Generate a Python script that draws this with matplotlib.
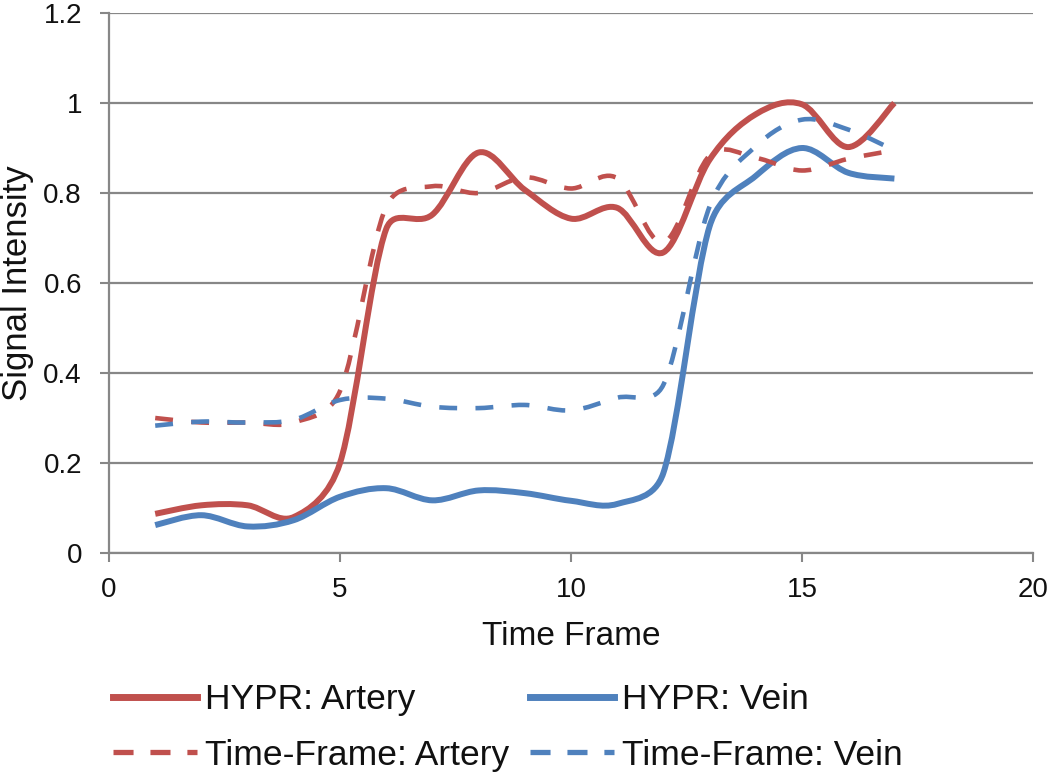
import matplotlib
matplotlib.use("Agg")
import numpy as np
import matplotlib.pyplot as plt
from matplotlib.path import Path
from matplotlib.patches import PathPatch
from matplotlib.lines import Line2D

plt.rcParams['font.family'] = ['Liberation Sans', 'DejaVu Sans']

frames = [1, 2, 3, 4, 5, 6, 7, 8, 9, 10, 11, 12, 13, 14, 15, 16, 17]
hypr_artery = [0.087, 0.106, 0.106, 0.080, 0.20, 0.72, 0.752, 0.89, 0.807, 0.743, 0.767, 0.668, 0.874, 0.975, 0.997, 0.902, 1.0]
tf_artery = [0.30, 0.29, 0.29, 0.29, 0.36, 0.77, 0.815, 0.80, 0.835, 0.81, 0.833, 0.69, 0.883, 0.878, 0.85, 0.876, 0.895]
hypr_vein = [0.062, 0.084, 0.059, 0.073, 0.125, 0.144, 0.117, 0.139, 0.133, 0.116, 0.109, 0.178, 0.726, 0.838, 0.90, 0.845, 0.832]
tf_vein = [0.283, 0.292, 0.29, 0.296, 0.34, 0.343, 0.325, 0.322, 0.329, 0.317, 0.345, 0.374, 0.77, 0.904, 0.963, 0.941, 0.895]

labels = ["HYPR: Artery", "HYPR: Vein", "Time-Frame: Artery", "Time-Frame: Vein"]
xticks = [0, 5, 10, 15, 20]
yticks = [0, 0.2, 0.4, 0.6, 0.8, 1.0, 1.2]
ytick_labels = ["0", "0.2", "0.4", "0.6", "0.8", "1", "1.2"]

RED = "#C0504D"
BLUE = "#4F81BD"
GRID = "#878787"
TXT = "#111111"


def smooth_path(ax, x, y):
    """Excel-style smoothed line: cubic Bezier segments built in screen space,
    control arms limited to half of the segment length."""
    pts = ax.transData.transform(np.column_stack([x, y]))
    n = len(pts)
    verts = [pts[0]]
    codes = [Path.MOVETO]
    for i in range(n - 1):
        p0 = pts[i - 1] if i > 0 else pts[i]
        p1 = pts[i]
        p2 = pts[i + 1]
        p3 = pts[i + 2] if i + 2 < n else pts[i + 1]
        seg = np.hypot(*(p2 - p1))
        t1 = (p2 - p0) / 6.0
        t2 = (p3 - p1) / 6.0
        for t in (t1, t2):
            L = np.hypot(*t)
            if L > seg / 2.0 and L > 0:
                t *= (seg / 2.0) / L
        verts += [p1 + t1, p2 - t2, p2]
        codes += [Path.CURVE4] * 3
    verts = ax.transData.inverted().transform(np.array(verts))
    return Path(verts, codes)


fig = plt.figure(figsize=(10.5, 7.76), dpi=100)
ax = fig.add_axes([109 / 1050, 1 - 553 / 776, (1033 - 109) / 1050, (553 - 13) / 776])

ax.set_xlim(0, 20)
ax.set_ylim(0, 1.2)

series = [
    (hypr_artery, RED, "-", 4.3),
    (hypr_vein, BLUE, "-", 4.3),
    (tf_artery, RED, (0, (3.9, 4.0)), 3.3),
    (tf_vein, BLUE, (0, (3.9, 4.0)), 3.3),
]
for ys, col, ls, lw in series:
    p = PathPatch(smooth_path(ax, frames, ys), fill=False, edgecolor=col,
                  linewidth=lw, linestyle=ls, capstyle='butt', joinstyle='round', zorder=3)
    ax.add_patch(p)

# grid and axes styling
ax.set_yticks(yticks)
ax.set_yticklabels(ytick_labels)
ax.set_xticks(xticks)
ax.grid(axis='y', color=GRID, linewidth=1.6)
ax.set_axisbelow(True)
for s in ['top', 'right']:
    ax.spines[s].set_visible(False)
for s in ['left', 'bottom']:
    ax.spines[s].set_color(GRID)
    ax.spines[s].set_linewidth(1.6)
ax.tick_params(axis='both', direction='out', length=6.5, width=1.5, color=GRID,
               labelsize=20, labelcolor=TXT)
ax.tick_params(axis='y', pad=13)
ax.tick_params(axis='x', pad=11)

ax.set_xlabel("Time Frame", fontsize=24, color=TXT, labelpad=13)
ax.set_ylabel("Signal Intensity", fontsize=25, color=TXT)
ax.yaxis.label.set_rotation_mode('default')
ax.yaxis.label.set_horizontalalignment('left')
ax.yaxis.label.set_verticalalignment('center')
ax.yaxis.set_label_coords((1 - 109) / 924, 0.5)

solid_h = dict(lw=5.0, ls='-')
dash_h = dict(lw=3.8, ls=(0, (3.8, 3.2)))
col1 = [Line2D([], [], color=RED, **solid_h), Line2D([], [], color=RED, **dash_h)]
col2 = [Line2D([], [], color=BLUE, **solid_h), Line2D([], [], color=BLUE, **dash_h)]
common = dict(loc='upper left', frameon=False, fontsize=25.5, handlelength=2.37,
              handletextpad=0.23, labelspacing=0.64, borderpad=0, borderaxespad=0,
              labelcolor=TXT)
fig.legend(col1, [labels[0], labels[2]], bbox_to_anchor=(113 / 1050, 1 - 683 / 776), **common)
fig.legend(col2, [labels[1], labels[3]], bbox_to_anchor=(530 / 1050, 1 - 683 / 776), **common)

fig.savefig("out.png", dpi=100)
